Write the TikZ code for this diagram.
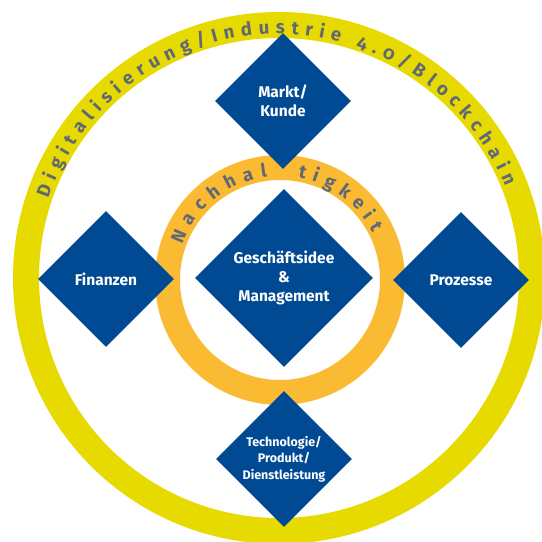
\documentclass[tikz,border=0pt]{standalone}
\usepackage{fontspec}
\setmainfont{Fira Sans}
\newfontfamily\ringfont[Numbers=OldStyle]{Fira Sans}
\usetikzlibrary{shapes.geometric,decorations.text}
\definecolor{ringyellow}{RGB}{230,218,0}
\definecolor{ringorange}{RGB}{250,187,50}
\definecolor{boxblue}{RGB}{0,74,148}
\definecolor{ringgray}{RGB}{96,104,118}
\begin{document}
\begin{tikzpicture}[x=1pt,y=1pt,
  box/.style={diamond, fill=boxblue, text=white, inner sep=0pt, aspect=1, align=center,
    font=\bfseries\fontsize{15.5}{19}\selectfont},
  smallbox/.style={minimum width=136pt, minimum height=136pt},
  bigbox/.style={minimum width=178pt, minimum height=178pt},
  ringtext/.style={decorate, decoration={text along path, text align=fit to path,
    text={|\ringfont\bfseries\fontsize{18.5}{18.5}\selectfont\color{ringgray}|#1}}}
]
\useasboundingbox (0,0) rectangle (542,542);
\coordinate (oc) at (279,264);
\coordinate (ic) at (280,262);
% rings
\fill[ringyellow, even odd rule] (oc) circle[radius=266] (oc) circle[radius=240];
\fill[ringorange, even odd rule] (ic) circle[radius=125] (ic) circle[radius=100];
% ring texts
\path[ringtext={Digitalisierung/Industrie 4.0/Blockchain}]
  ([shift={(161:244)}]oc) arc[start angle=161, end angle=22, radius=244];
\path[ringtext={Nachhal}]
  ([shift={(160:104)}]ic) arc[start angle=160, end angle=97, radius=104];
\path[ringtext={tigkeit}]
  ([shift={(80:104)}]ic) arc[start angle=80, end angle=27, radius=104];
% diamonds
\node[box,bigbox] (core) at (284,264) {Geschäftsidee\\\&\\Management};
\node[box,smallbox] (markt) at (283,441) {Markt/\\Kunde};
\node[box,smallbox] (fin) at (106,263) {Finanzen};
\node[box,smallbox] (proz) at (461,262) {Prozesse};
\node[box,smallbox,font=\bfseries\fontsize{12.5}{16.5}\selectfont] (tech) at (284,83)
  {Technologie/\\Produkt/\\Dienstleistung};
\end{tikzpicture}
\end{document}
